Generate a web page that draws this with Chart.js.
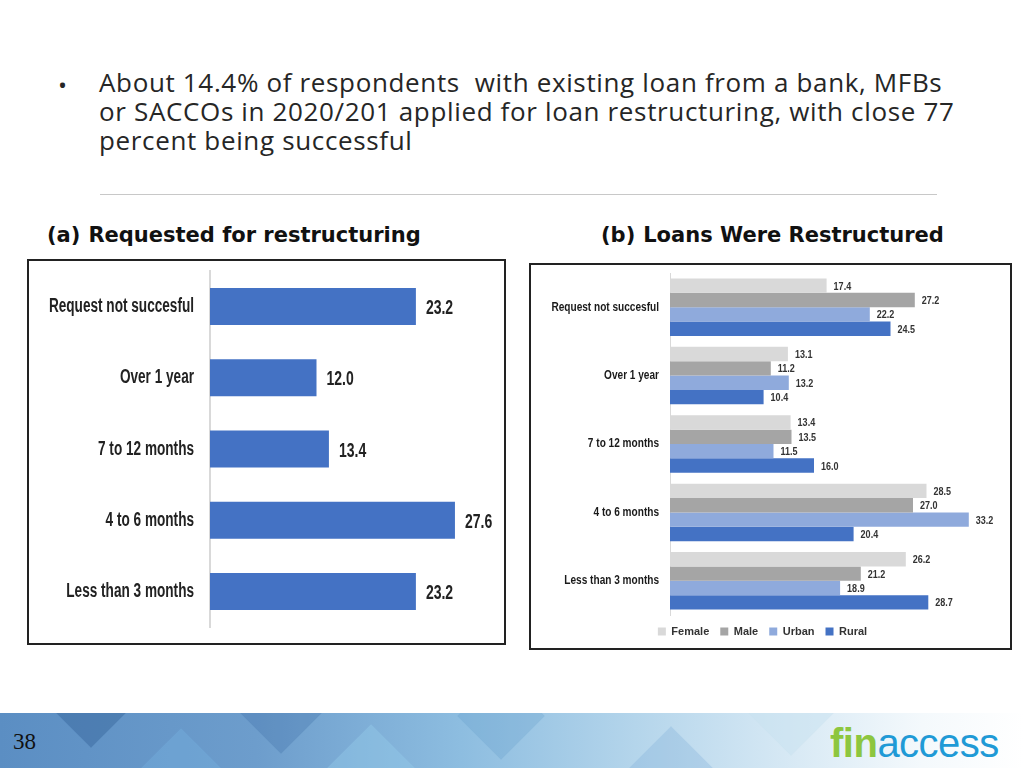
<!DOCTYPE html>
<html>
<head>
<meta charset="utf-8">
<script src="https://cdn.jsdelivr.net/npm/chart.js@4/dist/chart.umd.min.js"></script>
<style>
	html, body { margin: 0; padding: 0; }
	body { width: 1024px; height: 768px; position: relative; overflow: hidden; background: #fff; font-family: 'Open Sans', sans-serif; }
	.bullet { position: absolute; left: 58px; top: 68px; font-size: 24px; color: #262626; }
	.lead { position: absolute; left: 99px; top: 68px; width: 920px; font-size: 26px; line-height: 29px; color: #262626; white-space: nowrap; letter-spacing: 0.65px; }
	.rule { position: absolute; left: 100px; top: 194px; width: 837px; height: 1px; background: #c8c8c8; }
	.sub { position: absolute; top: 223px; font-family: 'DejaVu Sans', sans-serif; font-size: 21px; font-weight: bold; color: #111; white-space: nowrap; }
	.sub span { display: inline-block; margin-right: 8px; }
	.box { position: absolute; border: 2px solid #222; box-sizing: border-box; background: #fff; }
	.box canvas { display: block; }
	.footer { position: absolute; left: 0; top: 713px; width: 1024px; height: 55px; overflow: hidden;
		background: linear-gradient(90deg, #5b8ec3 0%, #6d9dcc 25%, #8dbde0 45%, #b4d5eb 62%, #d9eaf5 78%, #f4f9fc 90%, #fff 100%); }
	.dia { position: absolute; width: 62px; height: 62px; transform: rotate(45deg); }
	.pg { position: absolute; left: 13px; top: 729px; font-family: 'Liberation Serif', serif; font-size: 23px; color: #111; }
	.logo { position: absolute; left: 830px; top: 721px; font-family: 'Liberation Sans', sans-serif; font-size: 40px; line-height: 44px; letter-spacing: -0.5px; }
	.logo .fin { color: #8dc63f; font-weight: bold; }
	.logo .acc { color: #1f9ad6; }
</style>
</head>
<body>

<div class="bullet">•</div>
<div class="lead">About 14.4% of respondents&nbsp; with existing loan from a bank, MFBs<br>or SACCOs in 2020/201 applied for loan restructuring, with close 77<br>percent being successful</div>
<div class="rule"></div>

<div class="sub" style="left:47px"><span>(a)</span>Requested for restructuring</div>
<div class="sub" style="left:601px"><span>(b)</span>Loans Were Restructured</div>

<div class="box" style="left:27px; top:259px; width:479px; height:386px;">
	<canvas id="requestedChart" width="475" height="382"></canvas>
</div>
<div class="box" style="left:529px; top:263px; width:483px; height:387px;">
	<canvas id="restructuredChart" width="479" height="383"></canvas>
</div>

<div class="footer">
	<div class="dia" style="left:60px; top:-40px; background:rgba(40,85,140,0.35)"></div>
	<div class="dia" style="left:150px; top:28px; background:rgba(120,180,225,0.35)"></div>
	<div class="dia" style="left:250px; top:-34px; background:rgba(50,100,160,0.25)"></div>
	<div class="dia" style="left:340px; top:24px; background:rgba(150,205,235,0.4)"></div>
	<div class="dia" style="left:470px; top:-28px; background:rgba(90,150,200,0.25)"></div>
	<div class="dia" style="left:640px; top:26px; background:rgba(110,165,210,0.25)"></div>
	<div class="dia" style="left:760px; top:-32px; background:rgba(200,225,240,0.5)"></div>
</div>
<div class="pg">38</div>
<div class="logo"><span class="fin">fin</span><span class="acc">access</span></div>

<script>
// data
const categories = ['Request not succesful', 'Over 1 year', '7 to 12 months', '4 to 6 months', 'Less than 3 months'];
const requestedValues = [23.2, 12.0, 13.4, 27.6, 23.2];

const femaleValues = [17.4, 13.1, 13.4, 28.5, 26.2];
const maleValues = [27.2, 11.2, 13.5, 27.0, 21.2];
const urbanValues = [22.2, 13.2, 11.5, 33.2, 18.9];
const ruralValues = [24.5, 10.4, 16.0, 20.4, 28.7];

// colours
const femaleColor = '#D9D9D9';
const maleColor = '#A5A5A5';
const urbanColor = '#8FAADC';
const ruralColor = '#4472C4';

const sans = "'Liberation Sans', Arial, sans-serif";

// squeezed text, like the narrow labels in the original slide
function squeezedText(ctx, text, x, y, squeeze) {
	ctx.save();
	ctx.translate(x, y);
	ctx.scale(squeeze, 1);
	ctx.fillText(text, 0, 0);
	ctx.restore();
}

// category names next to the y axis
const categoryLabels = {
	id: 'categoryLabels',
	afterDraw(chart, args, opts) {
		const ctx = chart.ctx;
		const scale = chart.scales.y;
		ctx.save();
		ctx.font = opts.font;
		ctx.fillStyle = opts.color;
		ctx.textAlign = 'right';
		ctx.textBaseline = 'middle';
		chart.data.labels.forEach((label, i) => {
			squeezedText(ctx, label, scale.right - opts.padding, scale.getPixelForTick(i) + opts.dy, opts.squeeze);
		});
		ctx.restore();
	}
};

// value at the end of each bar
const valueLabels = {
	id: 'valueLabels',
	afterDatasetsDraw(chart, args, opts) {
		const ctx = chart.ctx;
		ctx.save();
		ctx.font = opts.font;
		ctx.fillStyle = opts.color;
		ctx.textAlign = 'left';
		ctx.textBaseline = 'middle';
		chart.data.datasets.forEach((ds, i) => {
			const meta = chart.getDatasetMeta(i);
			meta.data.forEach((bar, j) => {
				squeezedText(ctx, ds.data[j].toFixed(1), bar.x + opts.offset, bar.y + opts.dy, opts.squeeze);
			});
		});
		ctx.restore();
	}
};

Chart.defaults.animation = false;
Chart.defaults.responsive = false;

new Chart(document.getElementById('requestedChart'), {
	type: 'bar',
	data: {
		labels: categories,
		datasets: [{
			data: requestedValues,
			backgroundColor: ruralColor,
			categoryPercentage: 1,
			barPercentage: 0.52,
		}]
	},
	options: {
		indexAxis: 'y',
		layout: { padding: { top: 10, bottom: 16, right: 10, left: 0 } },
		scales: {
			x: { display: false, min: 0, max: 32 },
			y: {
				afterFit: (scale) => { scale.width = 181; },
				grid: { display: false, drawTicks: false },
				border: { display: true, color: '#d9d9d9', width: 2 },
				ticks: { display: false }
			}
		},
		plugins: {
			legend: { display: false },
			tooltip: { enabled: false },
			categoryLabels: { font: 'bold 20px ' + sans, color: '#222', padding: 16, dy: 0, squeeze: 0.68 },
			valueLabels: { font: 'bold 20px ' + sans, color: '#222', offset: 10, dy: 2, squeeze: 0.7 }
		}
	},
	plugins: [categoryLabels, valueLabels]
});

new Chart(document.getElementById('restructuredChart'), {
	type: 'bar',
	data: {
		labels: categories,
		datasets: [
			{ label: 'Female', data: femaleValues, backgroundColor: femaleColor },
			{ label: 'Male', data: maleValues, backgroundColor: maleColor },
			{ label: 'Urban', data: urbanValues, backgroundColor: urbanColor },
			{ label: 'Rural', data: ruralValues, backgroundColor: ruralColor },
		]
	},
	options: {
		indexAxis: 'y',
		datasets: { bar: { categoryPercentage: 0.84, barPercentage: 1 } },
		layout: { padding: { top: 8, bottom: 1, right: 16, left: 0 } },
		scales: {
			x: { display: false, min: 0, max: 36 },
			y: {
				afterFit: (scale) => { scale.width = 139; },
				grid: { display: false, drawTicks: false },
				border: { display: true, color: '#d9d9d9', width: 1 },
				ticks: { display: false }
			}
		},
		plugins: {
			legend: {
				position: 'bottom',
				labels: {
					boxWidth: 8,
					boxHeight: 8,
					padding: 11,
					color: '#333',
					font: { family: sans, size: 11, weight: 'bold' }
				}
			},
			tooltip: { enabled: false },
			categoryLabels: { font: 'bold 12px ' + sans, color: '#1a1a1a', padding: 11, dy: 0, squeeze: 0.84 },
			valueLabels: { font: 'bold 11px ' + sans, color: '#333', offset: 7, dy: 1, squeeze: 0.82 }
		}
	},
	plugins: [categoryLabels, valueLabels]
});
</script>
</body>
</html>
